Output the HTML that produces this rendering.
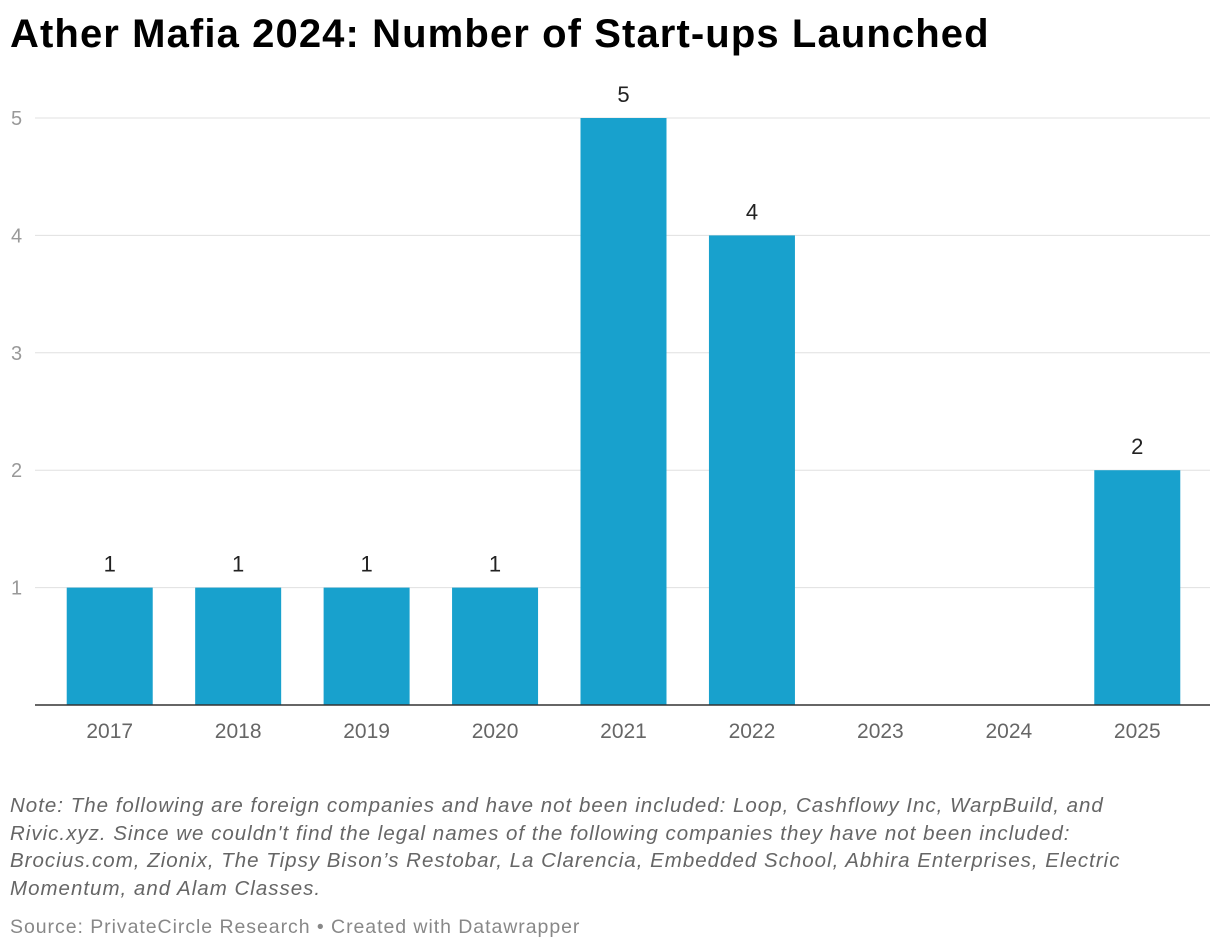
<!DOCTYPE html>
<html><head><meta charset="utf-8"><style>
body{margin:0;background:#fff;width:1220px;height:950px;overflow:hidden;font-family:"Liberation Sans",Roboto,sans-serif;}
#title{position:absolute;left:10px;top:12px;font-size:40px;font-weight:bold;color:#000;letter-spacing:1.1px;white-space:nowrap;}
#note{position:absolute;left:10px;top:792px;width:1200px;font-size:20.5px;line-height:27.7px;font-style:italic;color:#666;white-space:nowrap;letter-spacing:1.0px;}
#src{position:absolute;left:10px;top:916px;font-size:19.5px;color:#888;letter-spacing:0.95px;white-space:nowrap;}
svg{position:absolute;left:0;top:0;}
</style></head><body>
<div id="title">Ather Mafia 2024: Number of Start-ups Launched</div>
<svg id="chart" width="1220" height="780"></svg>
<div id="note">Note: The following are foreign companies and have not been included: Loop, Cashflowy Inc, WarpBuild, and<br>Rivic.xyz. Since we couldn't find the legal names of the following companies they have not been included:<br>Brocius.com, Zionix, The Tipsy Bison’s Restobar, La Clarencia, Embedded School, Abhira Enterprises, Electric<br>Momentum, and Alam Classes.</div>
<div id="src">Source: PrivateCircle Research • Created with Datawrapper</div>
<script>
const categories=["2017","2018","2019","2020","2021","2022","2023","2024","2025"];
const values=[1,1,1,1,5,4,0,0,2];
const yTicks=[1,2,3,4,5];
const NS="http://www.w3.org/2000/svg";
const svg=document.getElementById('chart');
const x0=45.5,x1=1201.5,y0=705,yTop=118,yMax=5;
const band=(x1-x0)/categories.length;
const xC=i=>x0+band*(i+0.5);
const y=v=>y0-(y0-yTop)*v/yMax;
function mk(t,a){const e=document.createElementNS(NS,t);for(const k in a)e.setAttribute(k,a[k]);svg.appendChild(e);return e;}
yTicks.forEach(t=>{
 const g=mk('line',{x1:35,x2:1210,y1:y(t),y2:y(t),stroke:'#e0e0e0','stroke-width':1});
 
 
 const l=mk('text',{x:11,y:y(t)+7,'font-size':20,fill:'#999','font-family':'Liberation Sans,sans-serif'});
 l.textContent=t;
 
 
});
const bw=86;
categories.forEach((c,i)=>{
 const v=values[i];
 if(v>0){
  const r=mk('rect',{x:xC(i)-bw/2,y:y(v),width:bw,height:y0-y(v),fill:'#18a1cd'});
  
  
  const t=mk('text',{x:xC(i),y:y(v)-16,'text-anchor':'middle','font-size':22,fill:'#222','font-family':'Liberation Sans,sans-serif'});
  t.textContent=v;
  
  
 }
 const xl=mk('text',{x:xC(i),y:738,'text-anchor':'middle','font-size':21,fill:'#666','font-family':'Liberation Sans,sans-serif'});
 xl.textContent=c;
 
 
});
const base=mk('line',{x1:35,x2:1210,y1:y0,y2:y0,stroke:'#333','stroke-width':1.5});


</script>
</body></html>
